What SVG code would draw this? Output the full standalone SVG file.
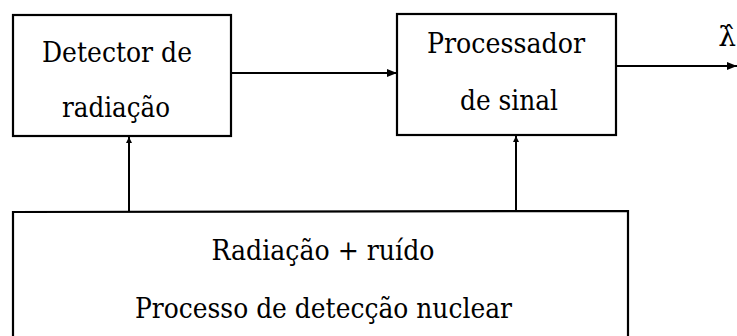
<svg xmlns="http://www.w3.org/2000/svg" width="737" height="336" viewBox="0 0 737 336">
<style>
.box{fill:#fff;stroke:#000;stroke-width:2.2}
.t{font-family:'DejaVu Serif','Liberation Serif',serif;font-size:28px;fill:#000;text-anchor:middle}
.c{fill:none;stroke:#000;stroke-width:2}
</style>
<defs>
<marker id="ah" viewBox="0 0 10 10" refX="10" refY="5" markerWidth="6" markerHeight="6" markerUnits="userSpaceOnUse" orient="auto">
<path d="M0,0 L10,5 L0,10 z" fill="#000"/>
</marker>
<marker id="ah2" viewBox="0 0 10 10" refX="10" refY="5" markerWidth="10" markerHeight="10" markerUnits="userSpaceOnUse" orient="auto">
<path d="M0,1 L10,5 L0,9 z" fill="#000"/>
</marker>
</defs>
<rect width="737" height="336" fill="#fff"/>
<g id="detector">
<rect class="box" x="13" y="15" width="218" height="121"/>
<text class="t" x="117" y="62" textLength="150" lengthAdjust="spacingAndGlyphs">Detector de</text>
<text class="t" x="116" y="117" textLength="108" lengthAdjust="spacingAndGlyphs">radiação</text>
</g>
<g id="processador">
<rect class="box" x="397" y="14" width="219" height="121"/>
<text class="t" x="506" y="53" textLength="158" lengthAdjust="spacingAndGlyphs">Processador</text>
<text class="t" x="509" y="110" textLength="98" lengthAdjust="spacingAndGlyphs">de sinal</text>
</g>
<g id="processo">
<path class="box" d="M13,340 L13,212 L628,211 L628,340"/>
<text class="t" x="323" y="260" textLength="223" lengthAdjust="spacingAndGlyphs">Radiação + ruído</text>
<text class="t" x="323.5" y="318" textLength="377" lengthAdjust="spacingAndGlyphs">Processo de detecção nuclear</text>
</g>
<g id="connectors">
<line class="c" x1="231" y1="73" x2="397" y2="73" stroke-width="3" marker-end="url(#ah2)"/>
<line class="c" x1="129" y1="212" x2="129" y2="137" marker-end="url(#ah)"/>
<line class="c" x1="516" y1="211" x2="516" y2="136" marker-end="url(#ah)"/>
<line class="c" x1="616" y1="66" x2="737" y2="66" stroke-width="2.5" marker-end="url(#ah2)"/>
</g>
<g id="lambda">
<text class="t" x="727" y="46" font-size="26">λ̂</text>
</g>
</svg>
